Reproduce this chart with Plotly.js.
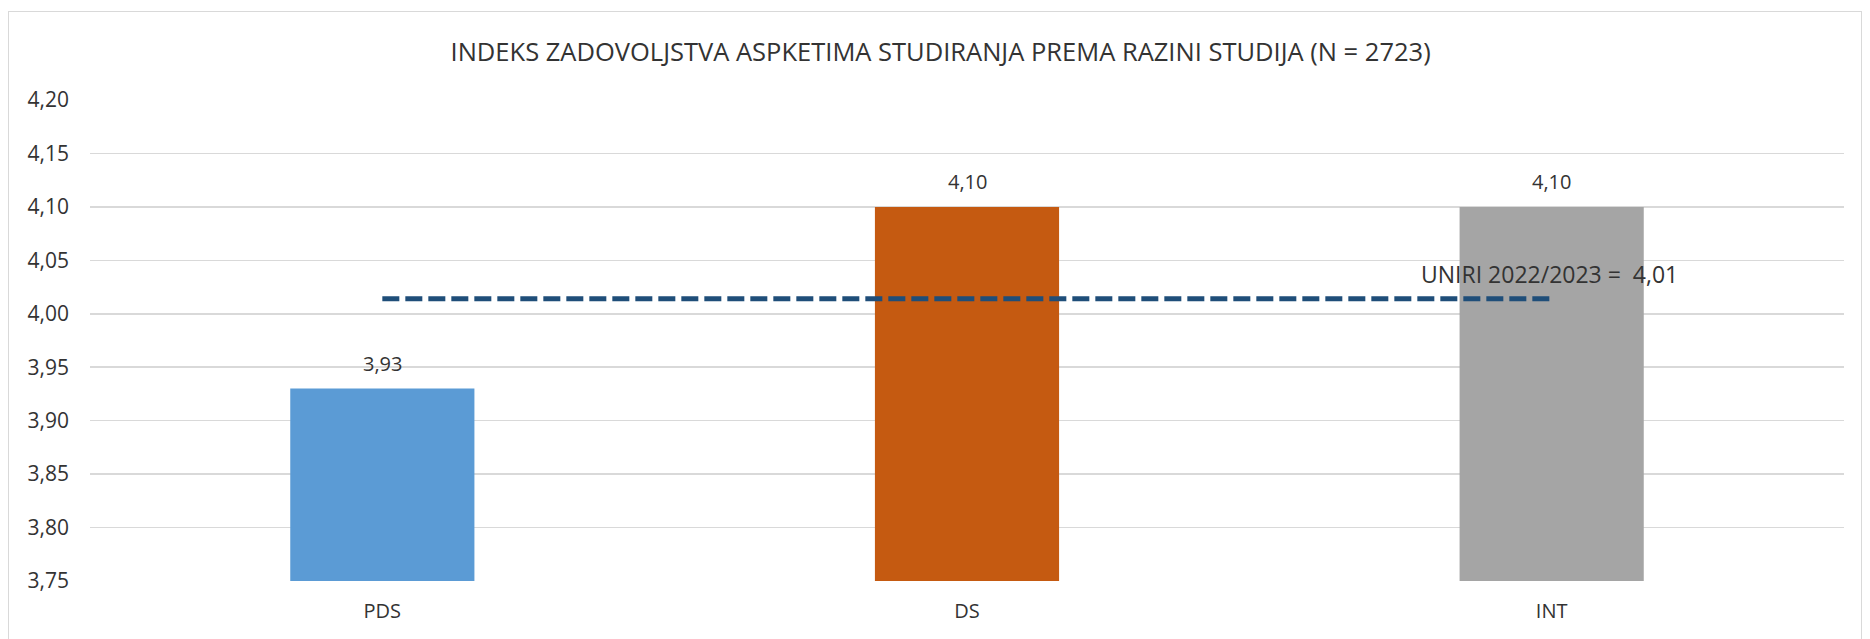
<!DOCTYPE html>
<html>
<head>
<meta charset="utf-8">
<script src="https://cdn.plot.ly/plotly-3.0.1.min.js"></script>
<style>
  html, body { margin: 0; padding: 0; background: #ffffff; }
  #chart { width: 1870px; height: 639px; position: absolute; left: 0; top: 0; }
  #frame { position: absolute; left: 8px; top: 11px; width: 1852px; height: 700px;
           border: 1.5px solid #d9d9d9; pointer-events: none; }
</style>
</head>
<body>
<div id="chart"></div>
<div id="frame"></div>
<script>
// ---- data ----
const categories = ['PDS', 'DS', 'INT'];
const values = [3.93, 4.10, 4.10];
const barColors = ['#5b9bd5', '#c55a11', '#a5a5a5'];
const meanValue = 4.014;
const meanLabel = 'UNIRI 2022/2023 =\u00a0\u00a04,01';
const chartTitle = 'INDEKS ZADOVOLJSTVA ASPKETIMA STUDIRANJA PREMA RAZINI STUDIJA (N = 2723)';
const yTickVals = [3.75, 3.80, 3.85, 3.90, 3.95, 4.00, 4.05, 4.10, 4.15, 4.20];

const fontFamily = '"Open Sans", "Segoe UI", sans-serif';
const textColor = '#333333';

const fmt = v => v.toFixed(2).replace('.', ',');

const bars = {
  type: 'bar',
  x: categories,
  y: values,
  marker: { color: barColors },
  hoverinfo: 'skip',
  cliponaxis: false
};

const meanLine = {
  type: 'scatter',
  mode: 'lines',
  x: categories,
  y: categories.map(() => meanValue),
  line: { color: '#1f4e79', width: 5, dash: '17px,6px' },
  hoverinfo: 'skip'
};

const annotations = categories.map((c, i) => ({
  x: c, y: values[i], xref: 'x', yref: 'y',
  text: fmt(values[i]), showarrow: false,
  yanchor: 'middle', yshift: 25,
  font: { family: fontFamily, size: 20, color: textColor }
}));
annotations.push({
  x: categories[categories.length - 1], y: meanValue, xref: 'x', yref: 'y',
  text: meanLabel, showarrow: false,
  yanchor: 'middle', yshift: 25, xshift: -2,
  font: { family: fontFamily, size: 23, color: textColor }
});

const layout = {
  width: 1870, height: 639,
  margin: { l: 90, r: 26, t: 100, b: 58 },
  paper_bgcolor: '#ffffff',
  plot_bgcolor: '#ffffff',
  showlegend: false,
  bargap: 0.685,
  separators: ', ',
  title: {
    text: chartTitle,
    x: 0.503, xref: 'container', xanchor: 'center',
    y: 1 - 52 / 639, yref: 'container', yanchor: 'middle',
    font: { family: fontFamily, size: 25.5, color: textColor }
  },
  xaxis: {
    type: 'category',
    showgrid: false, zeroline: false, showline: false,
    ticks: '',
    ticklabelstandoff: 16,
    tickfont: { family: fontFamily, size: 20, color: textColor }
  },
  yaxis: {
    range: [3.75, 4.20],
    tickvals: yTickVals,
    tickformat: '.2f',
    showgrid: true, gridcolor: '#d9d9d9', gridwidth: 1.6,
    zeroline: false, showline: false,
    ticks: '',
    ticklabelstandoff: 20,
    tickfont: { family: fontFamily, size: 21, color: textColor }
  },
  annotations: annotations
};

Plotly.newPlot('chart', [bars, meanLine], layout, { displayModeBar: false, staticPlot: true });
</script>
</body>
</html>
